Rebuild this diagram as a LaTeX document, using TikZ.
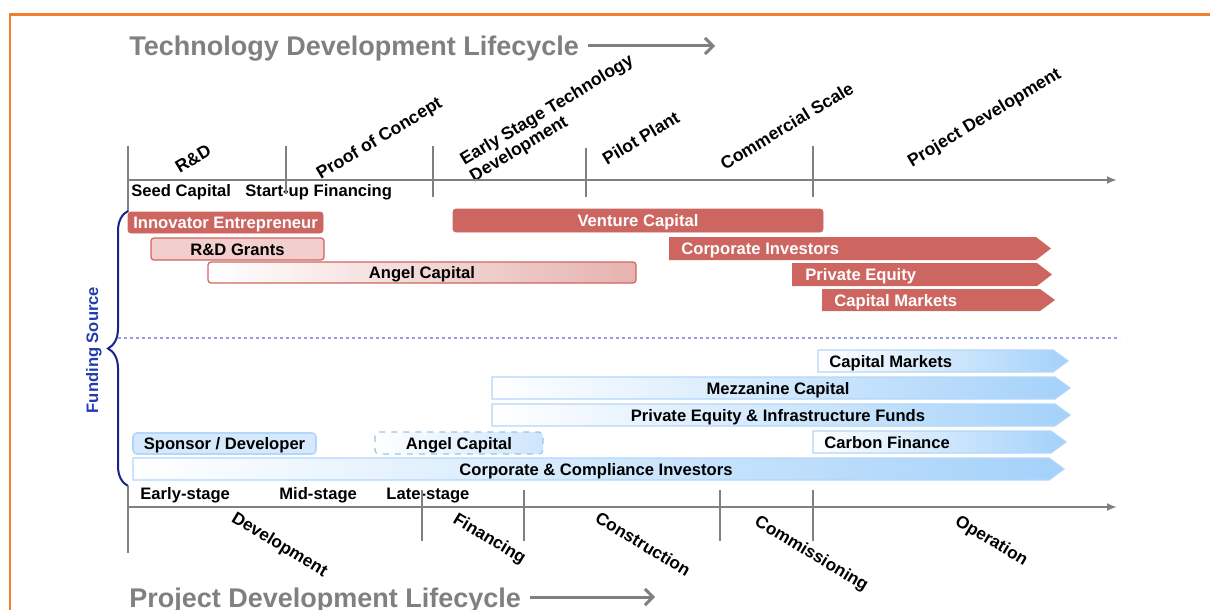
\documentclass[tikz,border=0pt]{standalone}
\usepackage{fontspec}
\setmainfont{Liberation Sans}
\usetikzlibrary{arrows.meta,decorations.pathreplacing}

\definecolor{frameorange}{RGB}{240,128,44}
\definecolor{axisgray}{RGB}{128,128,128}
\definecolor{barred}{RGB}{205,102,96}
\definecolor{barpink}{RGB}{242,206,205}
\definecolor{barblue}{RGB}{164,209,250}
\definecolor{edgeblue}{RGB}{178,215,250}
\definecolor{dashblue}{RGB}{150,196,240}
\definecolor{paleblue}{RGB}{214,233,252}
\definecolor{bracenavy}{RGB}{25,35,140}
\definecolor{fundblue}{RGB}{35,60,175}
\definecolor{dotblue}{RGB}{150,156,225}

\begin{document}
\begin{tikzpicture}[x=0.5pt, y=-0.5pt,
	every node/.style={font=\fontsize{8.3}{10}\selectfont\bfseries, inner sep=0pt, text height=6pt, text depth=0pt},
	lifecycle/.style={font=\fontsize{13.5}{16}\selectfont\bfseries, text=axisgray, anchor=base west},
	timeline/.style={draw=axisgray, line width=1pt},
	upphase/.style={font=\fontsize{8.8}{9.4}\selectfont\bfseries, rotate=31, align=left},
	downphase/.style={font=\fontsize{8.6}{10}\selectfont\bfseries, rotate=-31},
	redbar/.style={fill=barred, draw=barred, line width=0.4pt},
	bluebar/.style={draw=edgeblue, line width=0.6pt, left color=white, right color=barblue},
	lifearrow/.style={axisgray, line width=1.5pt, -{Straight Barb[length=4pt, width=8pt]}}]

	\useasboundingbox (0,0) rectangle (1210,610);
	\draw[frameorange, line width=1.4pt] (10,610) -- (10,14.5) -- (1210,14.5);

	% technology side
	\node[lifecycle] (techtitle) at (129,56) {Technology Development Lifecycle};
	\coordinate (techfrom) at (588,46);
	\coordinate (techto) at (715,46);
	\draw[lifearrow] (techfrom) -- (techto);

	\node[upphase] (rnd) at (193,159) {R\&D};
	\node[upphase] (proof) at (379,138) {Proof of Concept};
	\node[upphase, text height=, text depth=] (early) at (552,119) {Early Stage Technology\\Development};
	\node[upphase] (pilot) at (641,138) {Pilot Plant};
	\node[upphase] (commercial) at (787,126) {Commercial Scale};
	\node[upphase] (projdev) at (984,117) {Project Development};

	\node[anchor=west] (seed) at (131,191) {Seed Capital};
	\node[anchor=west] (startup) at (245,191) {Start-up Financing};

	\draw[timeline, -{Latex[length=5pt, width=4pt]}] (128,180) -- (1117,180);
	\draw[timeline] (128,146) -- (128,212) (286,146) -- (286,194) (433,146) -- (433,197)
		(586,148) -- (586,197) (813,146) -- (813,197);

	\draw[redbar, rounded corners=1.5pt] (128,212) rectangle (323,233);
	\node[text=white] (innovator) at (225.5,222.5) {Innovator Entrepreneur};
	\draw[redbar, rounded corners=1.5pt] (453,209) rectangle (823,232);
	\node[text=white] (venture) at (638,220.5) {Venture Capital};
	\draw[barred, fill=barpink, line width=0.6pt, rounded corners=1.5pt] (151,238) rectangle (324,260);
	\node (grants) at (237.5,249) {R\&D Grants};
	\draw[barred, line width=0.6pt, left color=white, right color=barred!50!white, rounded corners=1.5pt] (208,262) rectangle (636,283);
	\node (angeltech) at (422,272.5) {Angel Capital};

	\fill[barred] (669,237) -- (1036,237) -- (1051,248.5) -- (1036,260) -- (669,260) -- cycle;
	\node[text=white, anchor=west] (corpinv) at (681,248.5) {Corporate Investors};
	\fill[barred] (792,263) -- (1037,263) -- (1052,274.5) -- (1037,286) -- (792,286) -- cycle;
	\node[text=white, anchor=west] (privequity) at (805,274.5) {Private Equity};
	\fill[barred] (822,289) -- (1040,289) -- (1055,300) -- (1040,311) -- (822,311) -- cycle;
	\node[text=white, anchor=west] (capmarkets) at (834,300) {Capital Markets};

	\draw[dotblue, line width=1.3pt, dash pattern=on 1.3pt off 1.7pt] (118,338) -- (1120,338);

	% project side
	\draw[bluebar] (818,350) -- (1053,350) -- (1068,361) -- (1053,372) -- (818,372) -- cycle;
	\node[anchor=west] (projmarkets) at (829,361) {Capital Markets};
	\draw[bluebar] (492,377) -- (1055,377) -- (1070,388) -- (1055,399) -- (492,399) -- cycle;
	\node (mezzanine) at (778,388) {Mezzanine Capital};
	\draw[bluebar] (492,404) -- (1055,404) -- (1070,415) -- (1055,426) -- (492,426) -- cycle;
	\node (infra) at (778,415) {Private Equity \& Infrastructure Funds};
	\draw[bluebar] (813,431) -- (1051,431) -- (1066,442) -- (1051,453) -- (813,453) -- cycle;
	\node[anchor=west] (carbon) at (824,442) {Carbon Finance};
	\draw[bluebar] (133,458) -- (1049,458) -- (1064,469) -- (1049,480) -- (133,480) -- cycle;
	\node (compliance) at (596,469) {Corporate \& Compliance Investors};

	\draw[edgeblue, fill=paleblue, line width=0.8pt, rounded corners=2pt] (133,433) rectangle (316,454);
	\node (sponsor) at (224.5,443.5) {Sponsor / Developer};
	\draw[dashblue, dashed, line width=0.6pt, left color=white, right color=paleblue!85!barblue, rounded corners=2pt] (375,432) rectangle (543,454);
	\node (angelproj) at (459,443) {Angel Capital};

	\draw[bracenavy, line width=1pt, decorate, decoration={brace, amplitude=10pt}] (128,486) -- (128,211);
	\node[text=fundblue, rotate=90] (funding) at (92,350) {Funding Source};

	\node[anchor=west] (earlystage) at (140,493) {Early-stage};
	\node[anchor=west] (midstage) at (279,493) {Mid-stage};
	\node[anchor=west] (latestage) at (386,493) {Late-stage};

	\draw[timeline, -{Latex[length=5pt, width=4pt]}] (128,507) -- (1117,507);
	\draw[timeline] (128,486) -- (128,553) (422,490) -- (422,541) (524,490) -- (524,541)
		(720,490) -- (720,541) (813,490) -- (813,541);

	\node[downphase] (develop) at (280,544) {Development};
	\node[downphase] (financing) at (490,538) {Financing};
	\node[downphase] (construct) at (643,544) {Construction};
	\node[downphase] (commission) at (812,553) {Commissioning};
	\node[downphase] (operation) at (992,540) {Operation};

	\node[lifecycle] (projtitle) at (129,607) {Project Development Lifecycle};
	\coordinate (projfrom) at (530,597);
	\coordinate (projto) at (655,597);
	\draw[lifearrow] (projfrom) -- (projto);
\end{tikzpicture}
\end{document}
